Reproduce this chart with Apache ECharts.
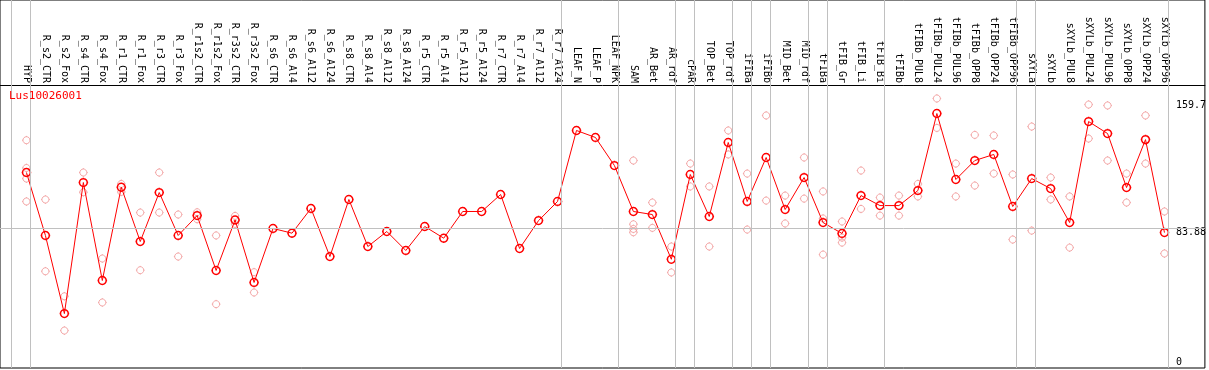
<!DOCTYPE html>
<html>
<head>
<meta charset="utf-8">
<script src="https://cdn.jsdelivr.net/npm/echarts@6/dist/echarts.min.js"></script>
<style>
html,body{margin:0;padding:0;background:#fff;}
#chart{width:1209px;height:370px;}
</style>
</head>
<body>
<div id="chart"></div>
<script>
const geneName = 'Lus10026001';
const categories = ['HYP','R_s2_CTR','R_s2_Fox','R_s4_CTR','R_s4_Fox','R_r1_CTR','R_r1_Fox','R_r3_CTR','R_r3_Fox','R_r1s2_CTR','R_r1s2_Fox','R_r3s2_CTR','R_r3s2_Fox','R_s6_CTR','R_s6_Al4','R_s6_Al12','R_s6_Al24','R_s8_CTR','R_s8_Al4','R_s8_Al12','R_s8_Al24','R_r5_CTR','R_r5_Al4','R_r5_Al12','R_r5_Al24','R_r7_CTR','R_r7_Al4','R_r7_Al12','R_r7_Al24','LEAF_N','LEAF_P','LEAF_NPK','SAM','AR_Bet','AR_rdf','cPAR','TOP_Bet','TOP_rdf','iFIBa','iFIBb','MID_Bet','MID_rdf','tFIBa','tFIB_Gr','tFIB_Li','tFIB_Bi','tFIBb','tFIBb_PUL8','tFIBb_PUL24','tFIBb_PUL96','tFIBb_OPP8','tFIBb_OPP24','tFIBb_OPP96','sXYLa','sXYLb','sXYLb_PUL8','sXYLb_PUL24','sXYLb_PUL96','sXYLb_OPP8','sXYLb_OPP24','sXYLb_OPP96'];
const means = [120.8,79.3,27.8,114.2,49.6,111.1,75.3,107.6,79.3,92.4,56.2,89.5,48.3,83.9,80.8,97.1,65.4,103.0,72.0,81.9,69.4,85.2,77.5,95.1,95.1,106.3,70.7,89.1,101.7,148.5,143.9,125.4,95.1,93.1,63.6,119.5,91.8,140.6,101.7,130.7,96.4,117.5,87.8,80.6,105.6,99.0,99.0,108.9,159.7,116.2,128.7,132.7,98.4,116.8,110.2,87.8,154.4,146.5,110.9,142.5,81.2];
const replicates = [
  [142.1,123.8,116.8,101.7],[103.0,55.7],[39.2,16.6],[120.8,107.8],[64.1,35.1],
  [113.3,108.0],[94.4,56.4],[120.8,94.4],[93.1,65.4],[94.6,90.0],
  [79.3,34.0],[92.2,86.9],[55.1,41.7],
  [],[],[],[],[],[],[],[],[],[],[],[],[],[],[],[],[],[],[],
  [128.7,86.7,83.6,81.4],[101.0,84.3],[72.0,54.9],[126.7,111.6],[111.6,72.0],
  [148.5,132.7],[120.1,83.2],[158.4,102.3],[105.6,87.2],[130.7,103.6],
  [108.3,90.5,66.7],[88.5,77.9,74.6],[122.1,96.8],[104.3,92.4],[105.6,92.4],
  [113.3,105.0],[169.6,150.2],[126.7,105.0],[145.6,112.2],[145.2,120.1],
  [119.5,76.6],[151.1,82.5],[117.5,103.0],[105.0,71.3],[165.6,143.2],
  [165.0,128.7],[120.1,101.0],[158.4,126.7],[95.1,67.4]
];
const groupDividers = [-0.79,0.21,28.21,31.21,34.21,35.21,37.21,38.21,39.21,41.21,42.21,45.21,52.21,53.21,60.21];
const refValue = 83.88;
const yTickValues = [0, 83.88, 159.7];

const meanData = means.map((v, i) => [i, v]);
const repData = [];
replicates.forEach((arr, i) => arr.forEach(v => repData.push([i, v])));

const sym = 'path://M4.5,1C6.43,1 8,2.57 8,4.5C8,6.43 6.43,8 4.5,8C2.57,8 1,6.43 1,4.5C1,2.57 2.57,1 4.5,1Z M4.5,0.2L4.5,1 M4.5,8L4.5,8.8 M0.2,4.5L1,4.5 M8,4.5L8.8,4.5 M0,0L0,0 M9,9L9,9';
const mono = '"DejaVu Sans Mono", "Liberation Mono", monospace';

const chart = echarts.init(document.getElementById('chart'), null, {renderer: 'canvas'});
chart.setOption({
  animation: false,
  backgroundColor: '#fff',
  title: {
    text: geneName, left: 9, top: 91, padding: 0,
    textStyle: {color: '#ff0000', fontSize: 11, fontWeight: 'normal', fontFamily: mono}
  },
  grid: {left: 0, top: 0, width: 1207, height: 368, show: true, borderColor: '#000', borderWidth: 1, backgroundColor: 'transparent'},
  xAxis: {
    type: 'value', position: 'top', offset: -85,
    min: -26.5 / 19, max: -26.5 / 19 + 1207 / 19,
    axisLine: {show: true, onZero: false, lineStyle: {color: '#000', width: 1}},
    axisTick: {show: false},
    splitLine: {show: false},
    axisLabel: {
      customValues: categories.map((c, i) => i),
      rotate: 90, margin: 2, color: '#000', fontSize: 10, fontFamily: mono,
      formatter: v => categories[Math.round(v)] || ''
    }
  },
  yAxis: {
    type: 'value', position: 'right',
    min: -8.09, max: 234.54,
    axisLine: {show: false}, axisTick: {show: false}, splitLine: {show: false},
    axisLabel: {
      inside: true, align: 'left', margin: 29, color: '#000', fontSize: 10, fontFamily: mono,
      customValues: yTickValues,
      formatter: v => v === 0 ? '{b|0}' : (v === 159.7 ? '{t|159.7}' : '{m|83.88}'),
      rich: {
        b: {fontSize: 10, fontFamily: mono, color: '#000', padding: [13, 0, 0, 0]},
        m: {fontSize: 10, fontFamily: mono, color: '#000', padding: [8, 0, 0, 0]},
        t: {fontSize: 10, fontFamily: mono, color: '#000', padding: [0, 0, 16, 0]}
      }
    }
  },
  series: [
    {
      type: 'scatter', name: 'replicates', data: repData, z: 2,
      symbol: sym, symbolSize: 9,
      itemStyle: {color: 'transparent', borderColor: '#f09494', borderWidth: 1},
      silent: true,
      markLine: {
        silent: true, symbol: ['none', 'none'], animation: false,
        label: {show: false},
        lineStyle: {color: '#c0c0c0', width: 1, type: 'solid'},
        data: groupDividers.map(x => ({xAxis: x})).concat([{yAxis: refValue}])
      }
    },
    {
      type: 'line', name: geneName, data: meanData, z: 3,
      symbol: sym, symbolSize: 10, showSymbol: true,
      lineStyle: {color: '#ff0000', width: 1},
      itemStyle: {color: 'transparent', borderColor: '#ff0000', borderWidth: 1.5},
      silent: true
    }
  ]
});
</script>
</body>
</html>
